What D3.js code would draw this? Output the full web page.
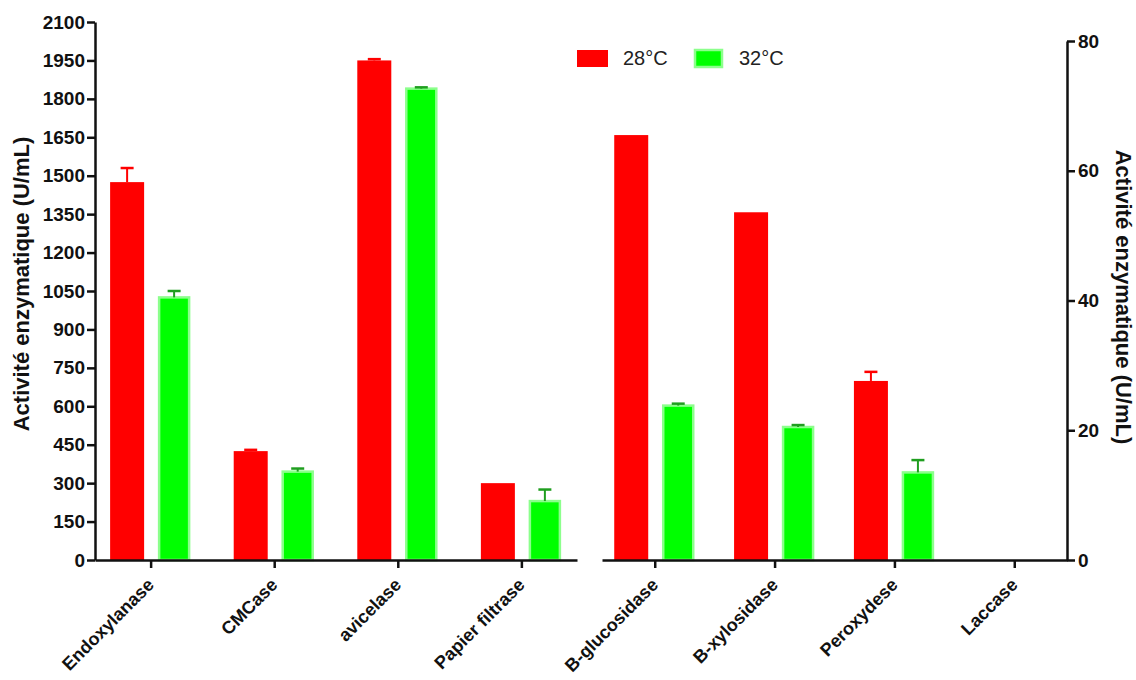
<!DOCTYPE html>
<html>
<head>
<meta charset="utf-8">
<script src="https://cdn.jsdelivr.net/npm/d3@7"></script>
<style>
    body { margin: 0; background: #fff; }
    svg { display: block; }
    text { font-family: Arial, "Liberation Sans", Helvetica, sans-serif; }
</style>
</head>
<body>
<svg id="chart" width="1136" height="680"></svg>
<script>
// categories, each panel has its own y axis
var leftCats = ["Endoxylanase", "CMCase", "avicelase", "Papier filtrase"],
    rightCats = ["B-glucosidase", "B-xylosidase", "Peroxydese", "Laccase"];

var series = ["28°C", "32°C"];

// values (U/mL) and upper error bars
var left28 = [1475, 425, 1950, 300],
    left28Err = [55, 5, 5, 0],
    left32 = [1025, 345, 1840, 230],
    left32Err = [25, 12, 5, 45];

var right28 = [65.5, 53.6, 27.6, 0],
    right28Err = [0, 0, 1.4, 0],
    right32 = [23.8, 20.5, 13.5, 0],
    right32Err = [0.3, 0.3, 1.9, 0];

var leftTicks = d3.range(0, 2101, 150),
    rightTicks = [0, 20, 40, 60, 80];

var red = "#ff0000",
    green = "#00ff00",
    greenEdge = "#8cff8c",
    greenErr = "#1f9e1f",
    axisColor = "#111",
    baseY = 560,
    barWidth = 34,
    barOffset = 23.5;

var svg = d3.select("#chart");

var yLeft = d3.scaleLinear().domain([0, 2100]).range([baseY, 22]);
var yRight = d3.scaleLinear().domain([0, 80]).range([baseY, 41]);
var xLeft = d3.scalePoint().domain(leftCats).range([95, 577]).padding(0.45);
var xRight = d3.scalePoint().domain(rightCats).range([602, 1067]).padding(0.44);

function drawBars(cats, x, y, vals, errs, side, fill, errColor) {
    var g = svg.append("g");
    var rows = cats.map(function(c, i) {
        return { cat: c, v: vals[i], e: errs[i] };
    });
    var dx = side < 0 ? -barOffset : barOffset;
    g.selectAll("rect")
        .data(rows.filter(function(d) { return d.v > 0; }))
        .enter()
        .append("rect")
        .attr("x", function(d) { return x(d.cat) + dx - barWidth / 2 + (fill == green ? 2 : 0); })
        .attr("y", function(d) { return y(d.v); })
        .attr("width", fill == green ? barWidth - 4 : barWidth)
        .attr("height", function(d) { return baseY - y(d.v); })
        .style("fill", fill)
        .style("stroke", fill == green ? greenEdge : "none")
        .style("stroke-width", fill == green ? 2.5 : 0);

    // upper half error bars
    var eb = rows.filter(function(d) { return d.v > 0 && d.e > 0; });
    g.selectAll("line.err")
        .data(eb)
        .enter()
        .append("line")
        .attr("class", "err")
        .attr("x1", function(d) { return x(d.cat) + dx; })
        .attr("x2", function(d) { return x(d.cat) + dx; })
        .attr("y1", function(d) { return y(d.v); })
        .attr("y2", function(d) { return y(d.v + d.e); })
        .style("stroke", errColor)
        .style("stroke-width", 2);
    g.selectAll("line.cap")
        .data(eb)
        .enter()
        .append("line")
        .attr("class", "cap")
        .attr("x1", function(d) { return x(d.cat) + dx - 6.5; })
        .attr("x2", function(d) { return x(d.cat) + dx + 6.5; })
        .attr("y1", function(d) { return y(d.v + d.e); })
        .attr("y2", function(d) { return y(d.v + d.e); })
        .style("stroke", errColor)
        .style("stroke-width", 2.5);
}

drawBars(leftCats, xLeft, yLeft, left28, left28Err, -1, red, red);
drawBars(leftCats, xLeft, yLeft, left32, left32Err, 1, green, greenErr);
drawBars(rightCats, xRight, yRight, right28, right28Err, -1, red, red);
drawBars(rightCats, xRight, yRight, right32, right32Err, 1, green, greenErr);

function styleAxis(g, size) {
    g.selectAll("path.domain").style("stroke", axisColor).style("stroke-width", 2.5);
    g.selectAll(".tick line").style("stroke", axisColor).style("stroke-width", 2.5);
    g.selectAll(".tick text")
        .style("font-size", size + "px")
        .style("font-weight", "bold")
        .style("fill", axisColor);
}

// left y axis
var gLeft = svg.append("g")
    .attr("transform", "translate(95,0)")
    .call(d3.axisLeft(yLeft).tickValues(leftTicks).tickFormat(d3.format("d"))
        .tickSize(8).tickSizeOuter(0).tickPadding(2));
styleAxis(gLeft, 19);

// right y axis
var gRight = svg.append("g")
    .attr("transform", "translate(1067,0)")
    .call(d3.axisRight(yRight).tickValues(rightTicks).tickFormat(d3.format("d"))
        .tickSize(8).tickSizeOuter(0).tickPadding(3));
styleAxis(gRight, 19);

// x axes, one per panel
function drawXAxis(x) {
    var g = svg.append("g")
        .attr("transform", "translate(0," + baseY + ")")
        .call(d3.axisBottom(x).tickSize(8).tickSizeOuter(0));
    styleAxis(g, 18);
    g.selectAll(".tick text")
        .attr("text-anchor", "end")
        .attr("dy", null)
        .attr("x", 4)
        .attr("y", 26)
        .attr("transform", "rotate(-45,4,26)");
}
drawXAxis(xLeft);
drawXAxis(xRight);

// axis titles
svg.append("text")
    .attr("transform", "translate(29,284) rotate(-90)")
    .attr("text-anchor", "middle")
    .style("font-size", "22px")
    .style("font-weight", "bold")
    .style("fill", axisColor)
    .text("Activité enzymatique (U/mL)");

svg.append("text")
    .attr("transform", "translate(1116,297) rotate(90)")
    .attr("text-anchor", "middle")
    .style("font-size", "22px")
    .style("font-weight", "bold")
    .style("fill", axisColor)
    .text("Activité enzymatique (U/mL)");

// legend
var legend = svg.append("g").attr("transform", "translate(577,50)");
var legendColors = [red, green];
var legendX = [0, 116];
series.forEach(function(s, i) {
    legend.append("rect")
        .attr("x", legendX[i] + (i == 1 ? 2 : 0))
        .attr("y", 0)
        .attr("width", i == 1 ? 27 : 31)
        .attr("height", 17)
        .style("fill", legendColors[i])
        .style("stroke", i == 1 ? greenEdge : "none")
        .style("stroke-width", 2.5);
    legend.append("text")
        .attr("x", legendX[i] + 46)
        .attr("y", 15)
        .style("font-size", "20px")
        .style("fill", "#222")
        .text(s);
});
</script>
</body>
</html>
